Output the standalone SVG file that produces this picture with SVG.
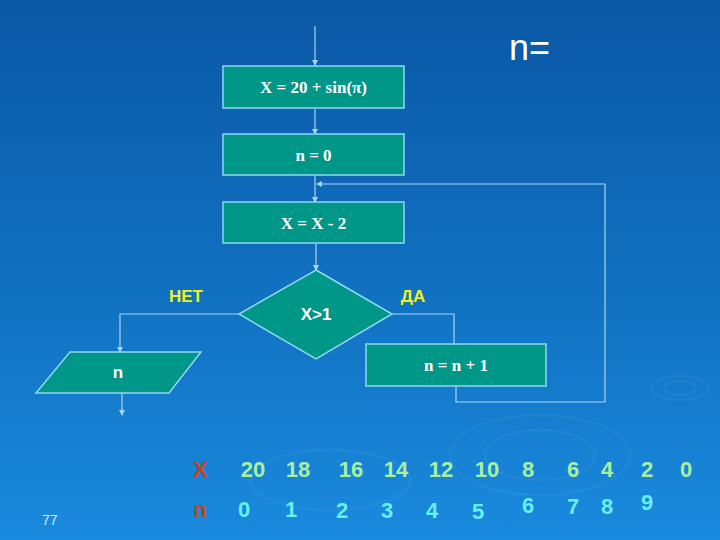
<svg xmlns="http://www.w3.org/2000/svg" width="720" height="540" viewBox="0 0 720 540">
<defs>
<linearGradient id="bg" x1="0" y1="0" x2="0" y2="1">
<stop offset="0" stop-color="#0a58a6"/>
<stop offset="0.6" stop-color="#1274c4"/>
<stop offset="1" stop-color="#1a8ade"/>
</linearGradient>
<marker id="ah" markerWidth="6" markerHeight="6" refX="5" refY="3" orient="auto" markerUnits="userSpaceOnUse">
<path d="M0,0 L6,3 L0,6 z" fill="#a8d4f4"/>
</marker>
<style>
.box{fill:#009688;stroke:#8fd8f2;stroke-width:1.5}
.ln{fill:none;stroke:#a8d4f4;stroke-width:1.2}
.bt{font-family:"Liberation Serif",serif;font-weight:bold;font-size:17px;fill:#ffffff;text-anchor:middle}
.at{font-family:"Liberation Sans",Arial,sans-serif;font-weight:bold;font-size:17px;text-anchor:middle}
.xv{font-family:"Liberation Sans",Arial,sans-serif;font-weight:bold;font-size:22px;fill:#a8f0a0;text-anchor:middle}
.nv{font-family:"Liberation Sans",Arial,sans-serif;font-weight:bold;font-size:22px;fill:#66f0f0;text-anchor:middle}
.lab{font-family:"Liberation Sans",Arial,sans-serif;font-weight:bold;font-size:22px;fill:#c4421c;text-anchor:middle}
.rip{fill:none;stroke:#ffffff;stroke-opacity:0.04;stroke-width:3}
</style>
</defs>
<rect width="720" height="540" fill="url(#bg)"/>
<g id="ripples">
<ellipse class="rip" cx="540" cy="455" rx="90" ry="40"/>
<ellipse class="rip" cx="540" cy="455" rx="55" ry="25"/>
<ellipse class="rip" cx="680" cy="388" rx="28" ry="12"/>
<ellipse class="rip" cx="680" cy="388" rx="16" ry="7"/>
<ellipse class="rip" cx="330" cy="480" rx="80" ry="30"/>
</g>
<g id="connectors">
<line class="ln" x1="315" y1="26" x2="315" y2="65" marker-end="url(#ah)"/>
<line class="ln" x1="315" y1="109" x2="315" y2="134" marker-end="url(#ah)"/>
<line class="ln" x1="315" y1="176" x2="315" y2="202" marker-end="url(#ah)"/>
<line class="ln" x1="316" y1="244" x2="316" y2="270" marker-end="url(#ah)"/>
<polyline class="ln" points="239,314 120,314 120,352" marker-end="url(#ah)"/>
<polyline class="ln" points="392,314 454,314 454,344"/>
<line class="ln" x1="122" y1="393" x2="122" y2="415" marker-end="url(#ah)"/>
<polyline class="ln" points="456,386 456,402 605,402 605,184 317,184" marker-end="url(#ah)"/>
</g>
<g id="n1"><rect class="box" x="223" y="66" width="181" height="42"/><text class="bt" x="313.5" y="93">X = 20 + sin(π)</text></g>
<g id="n2"><rect class="box" x="223" y="134" width="181" height="41"/><text class="bt" x="313.5" y="161">n = 0</text></g>
<g id="n3"><rect class="box" x="223" y="202" width="181" height="41"/><text class="bt" x="313.5" y="229">X = X - 2</text></g>
<g id="n4"><polygon class="box" points="316,270 392,314 316,359 239,314"/><text class="at" x="316" y="320" fill="#ffffff">X&gt;1</text></g>
<g id="n5"><polygon class="box" points="70,352 201,352 169,393 36,393"/><text class="at" x="118" y="378" fill="#ffffff">n</text></g>
<g id="n6"><rect class="box" x="366" y="344" width="180" height="42"/><text class="bt" x="456" y="371">n = n + 1</text></g>
<g id="labels">
<text class="at" x="186" y="302" fill="#f0f020">НЕТ</text>
<text class="at" x="413" y="302" fill="#f0f020">ДА</text>
<text x="509" y="60" font-family="Liberation Sans,Arial,sans-serif" font-size="36" fill="#ffffff">n=</text>
<text x="42" y="525" font-family="Liberation Sans,Arial,sans-serif" font-size="14" fill="#d8ecff">77</text>
</g>
<g id="table">
<text class="lab" x="200" y="477">X</text>
<text class="lab" x="200" y="517">n</text>
<text class="xv" x="253" y="477">20</text>
<text class="xv" x="298" y="477">18</text>
<text class="xv" x="351" y="477">16</text>
<text class="xv" x="396" y="477">14</text>
<text class="xv" x="441" y="477">12</text>
<text class="xv" x="487" y="477">10</text>
<text class="xv" x="528" y="477">8</text>
<text class="xv" x="573" y="477">6</text>
<text class="xv" x="607" y="477">4</text>
<text class="xv" x="647" y="477">2</text>
<text class="xv" x="686" y="477">0</text>
<text class="nv" x="244" y="517">0</text>
<text class="nv" x="291" y="517">1</text>
<text class="nv" x="342" y="518">2</text>
<text class="nv" x="387" y="518">3</text>
<text class="nv" x="432" y="518">4</text>
<text class="nv" x="478" y="519">5</text>
<text class="nv" x="528" y="513">6</text>
<text class="nv" x="573" y="514">7</text>
<text class="nv" x="607" y="514">8</text>
<text class="nv" x="647" y="510">9</text>
</g>
</svg>
